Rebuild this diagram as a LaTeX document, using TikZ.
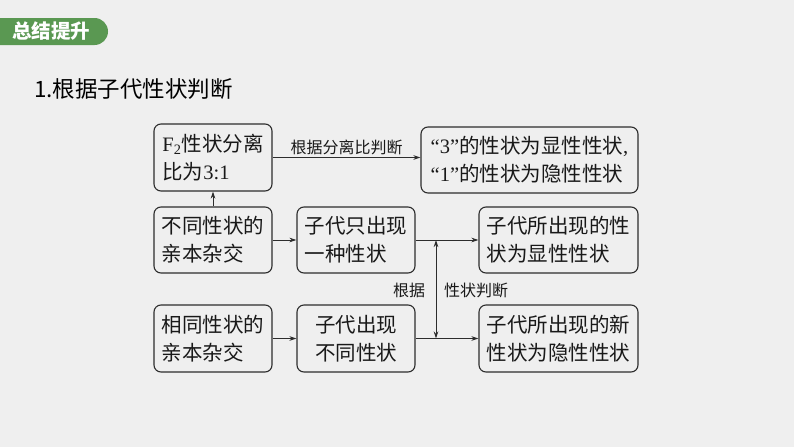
\documentclass[tikz,border=0pt]{standalone}
\usepackage{fontspec}
\newfontfamily\cjk{Noto Sans CJK SC}
\newfontfamily\ser{Liberation Serif}
\usetikzlibrary{arrows.meta,calc}
\definecolor{bgc}{RGB}{239,239,239}
\definecolor{tabgreen}{RGB}{90,152,82}
\definecolor{boxline}{RGB}{45,45,45}
\newcommand{\lm}[1]{{\ser #1}}
\begin{document}
\begin{tikzpicture}[x=1pt,y=-1pt,
  boxa/.style={draw=boxline, line width=1.1pt, rounded corners=7pt, fill=bgc,
    minimum width=118pt, minimum height=66pt, inner sep=3pt,
    font=\cjk\fontsize{20.5}{28}\selectfont, align=left, text=black!90},
  boxw/.style={boxa, minimum width=159pt},
  conn/.style={line width=0.9pt, draw=boxline, -{Stealth[length=7pt,width=4.5pt]}},
  lbl/.style={font=\cjk\fontsize{16}{18}\selectfont, text=black!90, inner sep=1pt}]
\fill[bgc] (0,0) rectangle (794,447);
\useasboundingbox (0,0) rectangle (794,447);
% tab
\fill[tabgreen] (0,18) -- (94.5,18) arc[start angle=-90, end angle=90, radius=13.5] -- (0,45) -- cycle;
\node[anchor=west, text=white, font=\cjk\bfseries\fontsize{19.5}{20}\selectfont, inner sep=0pt] (tab) at (12,31.5) {总结提升};
% title
\node[anchor=west, text=black, font=\cjk\fontsize{22.5}{24}\selectfont, inner sep=0pt] (title) at (34,89) {1.根据子代性状判断};
% boxes
\node[boxa, minimum height=67pt] (f2) at (213,157.5) {\lm{F\textsubscript{2}}性状分离\\比为\lm{3:1}};
\node[boxa, minimum width=217pt] (ratio) at (529.5,160) {\lm{“3”}的性状为显性性状\lm{,}\\\lm{“1”}的性状为隐性性状};
\node[boxa] (diff) at (213,240) {不同性状的\\亲本杂交};
\node[boxa] (one) at (356,240) {子代只出现\\一种性状};
\node[boxw] (dom) at (558.5,240) {子代所出现的性\\状为显性性状};
\node[boxa, minimum height=67pt] (same) at (213,338.5) {相同性状的\\亲本杂交};
\node[boxa, minimum height=67pt, align=center] (newd) at (356,338.5) {子代出现\\不同性状};
\node[boxw, minimum height=67pt] (rec) at (558.5,338.5) {子代所出现的新\\性状为隐性性状};
% connectors
\draw[conn] (f2.east) -- (f2.east -| ratio.west) node[midway, above=1pt, lbl] (lab1) {根据分离比判断};
\draw[conn] (diff.north) -- (f2.south);
\draw[conn] (diff.east) -- (one.west);
\draw[conn] (one.east) -- (dom.west);
\draw[conn] (same.east) -- (newd.west);
\draw[conn] (newd.east) -- (rec.west);
\coordinate (vx) at (436,0);
\draw[line width=0.9pt, draw=boxline, {Stealth[length=7pt,width=4.5pt]}-{Stealth[length=7pt,width=4.5pt]}] (vx |- one.east) -- (vx |- newd.east);
\node[lbl] (lab2) at (409,290) {根据};
\node[lbl] (lab3) at (476,290) {性状判断};
\end{tikzpicture}
\end{document}
